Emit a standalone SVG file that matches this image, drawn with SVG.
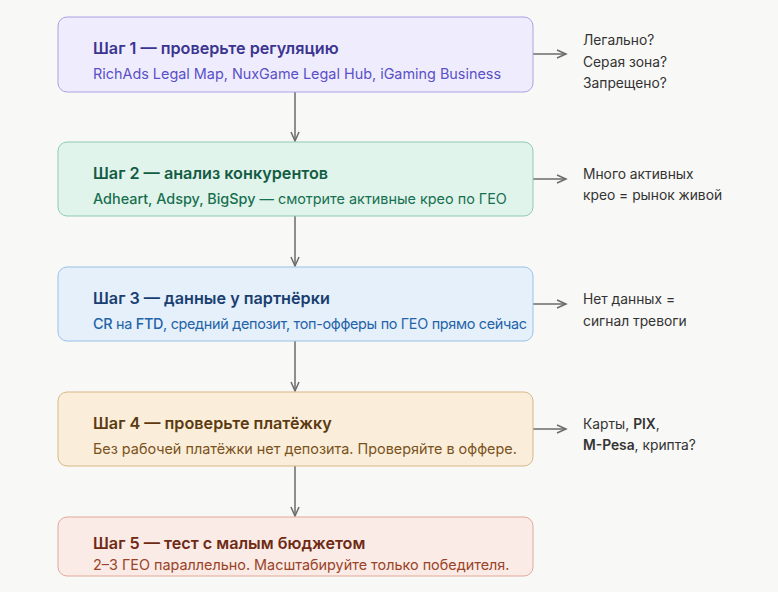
<svg xmlns="http://www.w3.org/2000/svg" width="778" height="592" viewBox="0 0 778 592">
<style>
text{font-family:Inter,"Noto Sans",sans-serif}
.t{font-size:16.2px;font-weight:600}
.s{font-size:14.4px}
.b{font-weight:500}
.n{font-size:13.8px;fill:#333}
.c{stroke:#6b6b6b;stroke-width:1.5;fill:none}
</style>
<defs><marker id="a" markerWidth="12" markerHeight="10" refX="10" refY="5" orient="auto" markerUnits="userSpaceOnUse"><path d="M1,1 L10,5 L1,9" fill="none" stroke="#6b6b6b" stroke-width="1.5"/></marker></defs>
<rect width="778" height="592" fill="#f8f8f6"/>
<g id="connectors">
<line class="c" x1="295" y1="92" x2="295" y2="141" marker-end="url(#a)"/>
<line class="c" x1="295" y1="216" x2="295" y2="266" marker-end="url(#a)"/>
<line class="c" x1="295" y1="341" x2="295" y2="391" marker-end="url(#a)"/>
<line class="c" x1="295" y1="466" x2="295" y2="516" marker-end="url(#a)"/>
<line class="c" x1="533" y1="54" x2="566" y2="54" marker-end="url(#a)"/>
<line class="c" x1="533" y1="179" x2="566" y2="179" marker-end="url(#a)"/>
<line class="c" x1="533" y1="304" x2="566" y2="304" marker-end="url(#a)"/>
<line class="c" x1="533" y1="429" x2="566" y2="429" marker-end="url(#a)"/>
</g>
<g id="n1"><rect x="58" y="17" width="475" height="75" rx="9" fill="#efedfd" stroke="#a9a2e6"/>
<text class="t" x="93" y="54" fill="#3b3590">Шаг 1 — проверьте регуляцию</text>
<text class="s" x="93" y="79" fill="#5a50c8">RichAds Legal Map, NuxGame Legal Hub, iGaming Business</text></g>
<g id="n2"><rect x="58" y="142" width="475" height="74" rx="9" fill="#e1f4ec" stroke="#8fcab1"/>
<text class="t" x="93" y="179" fill="#135c44">Шаг 2 — анализ конкурентов</text>
<text class="s" x="93" y="204" fill="#17704f"><tspan class="b">Adheart, Adspy, BigSpy</tspan> — смотрите активные крео по ГЕО</text></g>
<g id="n3"><rect x="58" y="267" width="475" height="74" rx="9" fill="#e6f0fb" stroke="#9cc0e8"/>
<text class="t" x="93" y="304" fill="#183f70">Шаг 3 — данные у партнёрки</text>
<text class="s" x="93" y="329" fill="#2363a8" textLength="434"><tspan class="b">CR</tspan> на <tspan class="b">FTD</tspan>, средний депозит, топ-офферы по ГЕО прямо сейчас</text></g>
<g id="n4"><rect x="58" y="392" width="475" height="74" rx="9" fill="#faeedb" stroke="#d9b787"/>
<text class="t" x="93" y="429" fill="#5c3a10">Шаг 4 — проверьте платёжку</text>
<text class="s" x="93" y="454" fill="#7a5220">Без рабочей платёжки нет депозита. Проверяйте в оффере.</text></g>
<g id="n5"><rect x="58" y="517" width="475" height="59" rx="9" fill="#fbebe6" stroke="#e0a99a"/>
<text class="t" x="93" y="549" fill="#6e2a15">Шаг 5 — тест с малым бюджетом</text>
<text class="s" x="93" y="570" fill="#9a4328">2–3 ГЕО параллельно. Масштабируйте только победителя.</text></g>
<g id="notes">
<text class="n" x="583" y="45">Легально?</text>
<text class="n" x="583" y="67">Серая зона?</text>
<text class="n" x="583" y="88">Запрещено?</text>
<text class="n" x="583" y="179">Много активных</text>
<text class="n" x="583" y="200">крео = рынок живой</text>
<text class="n" x="583" y="304">Нет данных =</text>
<text class="n" x="583" y="326">сигнал тревоги</text>
<text class="n" x="583" y="429">Карты, <tspan style="font-weight:600">PIX</tspan>,</text>
<text class="n" x="583" y="450"><tspan style="font-weight:600">M-Pesa</tspan>, крипта?</text>
</g>
</svg>
